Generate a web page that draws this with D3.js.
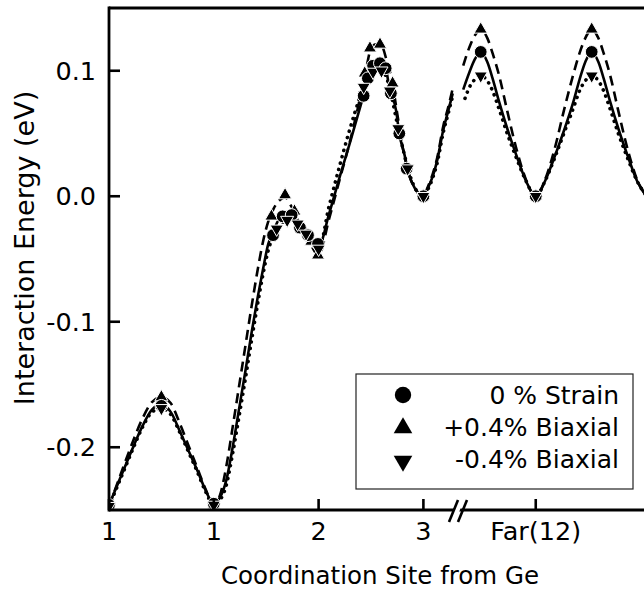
<!DOCTYPE html>
<html><head><meta charset="utf-8">
<script src="https://cdn.jsdelivr.net/npm/d3@7"></script>
<style>
html,body{margin:0;padding:0;background:#fff;}
svg{display:block;}
text{font-family:"DejaVu Sans",Verdana,sans-serif;fill:#000;}
</style></head><body>
<svg id="chart" width="644" height="591"></svg>
<script>
// Axis ticks: the coordinate runs through sites 1,1,2,3, then resumes past the axis break
const xTickValues = [0, 1, 2, 3, 4.072];
const xTickLabels = ["1", "1", "2", "3", "Far(12)"];
const yTickValues = [0.1, 0.0, -0.1, -0.2];
const yTickLabels = ["0.1", "0.0", "-0.1", "-0.2"];
const seriesNames = ["0 % Strain", "+0.4% Biaxial", "-0.4% Biaxial"];

// Energy profiles [coordinate, eV] – near sites (before break) and far site (after break)
const zeroNear = [[0,-0.246],[0.07,-0.232],[0.14,-0.218],[0.23,-0.200],[0.32,-0.183],[0.41,-0.170],[0.5,-0.166],[0.59,-0.172],[0.68,-0.188],[0.76,-0.203],[0.84,-0.218],[0.92,-0.234],[1.0,-0.245],
  [1.06,-0.240],[1.12,-0.226],[1.18,-0.200],[1.24,-0.170],[1.30,-0.140],[1.36,-0.109],[1.42,-0.080],[1.47,-0.058],[1.52,-0.038],[1.565,-0.029],[1.61,-0.020],[1.66,-0.016],[1.74,-0.015],[1.82,-0.025],[1.90,-0.031],[2.0,-0.040],
  [2.1,-0.014],[2.2,0.015],[2.3,0.043],[2.4,0.072],[2.46,0.090],[2.51,0.103],[2.55,0.106],[2.60,0.105],[2.64,0.102],[2.67,0.089],[2.74,0.068],[2.77,0.050],[2.82,0.033],[2.86,0.018],[2.92,0.006],[3.0,0.0],
  [3.04,0.006],[3.09,0.016],[3.13,0.028],[3.19,0.053],[3.24,0.069],[3.28,0.082]];
const zeroFar = [[3.38,0.085],[3.44,0.099],[3.49,0.109],[3.547,0.115],[3.61,0.107],[3.66,0.094],[3.72,0.076],[3.80,0.054],[3.89,0.032],[3.98,0.012],[4.072,0.0],
  [4.16,0.012],[4.25,0.031],[4.34,0.052],[4.43,0.075],[4.49,0.093],[4.545,0.107],[4.606,0.115],[4.67,0.107],[4.72,0.094],[4.78,0.076],[4.86,0.054],[4.95,0.032],[5.04,0.012],[5.13,0.0]];

const plusNear = [[0,-0.247],[0.07,-0.231],[0.14,-0.215],[0.23,-0.195],[0.32,-0.177],[0.41,-0.164],[0.5,-0.160],[0.59,-0.165],[0.68,-0.182],[0.76,-0.199],[0.84,-0.216],[0.92,-0.233],[1.0,-0.246],
  [1.06,-0.238],[1.12,-0.215],[1.18,-0.184],[1.24,-0.152],[1.30,-0.120],[1.36,-0.088],[1.42,-0.058],[1.47,-0.036],[1.52,-0.020],[1.57,-0.010],[1.63,-0.003],[1.68,-0.001],[1.74,-0.008],[1.82,-0.022],[1.90,-0.034],[2.0,-0.047],
  [2.1,-0.018],[2.2,0.013],[2.3,0.044],[2.4,0.080],[2.46,0.104],[2.5,0.118],[2.55,0.121],[2.6,0.120],[2.65,0.108],[2.7,0.092],[2.75,0.066],[2.8,0.040],[2.86,0.018],[2.93,0.005],[3.0,0.0],
  [3.04,0.007],[3.09,0.018],[3.13,0.030],[3.19,0.056],[3.24,0.072],[3.28,0.086]];
const plusFar = [[3.38,0.104],[3.44,0.119],[3.49,0.128],[3.547,0.133],[3.61,0.126],[3.66,0.114],[3.72,0.097],[3.80,0.068],[3.89,0.037],[3.98,0.013],[4.072,0.0],
  [4.16,0.013],[4.25,0.037],[4.34,0.068],[4.43,0.097],[4.49,0.114],[4.545,0.126],[4.606,0.133],[4.67,0.126],[4.72,0.114],[4.78,0.097],[4.86,0.068],[4.95,0.037],[5.04,0.013],[5.13,0.0]];

const minusNear = [[0,-0.247],[0.07,-0.233],[0.14,-0.219],[0.23,-0.201],[0.32,-0.184],[0.41,-0.172],[0.5,-0.169],[0.59,-0.174],[0.68,-0.189],[0.76,-0.204],[0.84,-0.219],[0.92,-0.235],[1.0,-0.246],
  [1.06,-0.242],[1.12,-0.230],[1.18,-0.205],[1.24,-0.176],[1.30,-0.146],[1.36,-0.115],[1.42,-0.085],[1.47,-0.062],[1.52,-0.043],[1.57,-0.031],[1.62,-0.024],[1.70,-0.019],[1.78,-0.020],[1.86,-0.028],[1.93,-0.034],[2.0,-0.042],
  [2.1,-0.008],[2.2,0.024],[2.3,0.054],[2.4,0.080],[2.46,0.092],[2.52,0.099],[2.6,0.100],[2.65,0.094],[2.7,0.078],[2.76,0.054],[2.81,0.036],[2.87,0.017],[2.93,0.005],[3.0,0.0],
  [3.04,0.005],[3.09,0.015],[3.13,0.026],[3.19,0.051],[3.24,0.067],[3.28,0.080]];
const minusFar = [[3.397,0.078],[3.44,0.087],[3.49,0.093],[3.547,0.096],[3.61,0.092],[3.66,0.084],[3.72,0.070],[3.80,0.050],[3.89,0.030],[3.98,0.012],[4.072,0.0],
  [4.16,0.012],[4.25,0.030],[4.34,0.050],[4.43,0.070],[4.49,0.084],[4.545,0.092],[4.606,0.096],[4.67,0.092],[4.72,0.084],[4.78,0.070],[4.86,0.050],[4.95,0.030],[5.04,0.012],[5.13,0.0]];

// Computed images along each path
const zeroMarks = [[0,-0.246],[0.5,-0.167],[1.0,-0.245],[1.565,-0.031],[1.657,-0.016],[1.743,-0.015],[1.822,-0.025],[1.899,-0.031],[1.994,-0.038],
  [2.43,0.080],[2.47,0.094],[2.52,0.104],[2.585,0.106],[2.64,0.102],[2.69,0.082],[2.77,0.050],[2.84,0.022],[3.0,0.0],[3.547,0.115],[4.072,0.0],[4.606,0.115]];
const plusMarks = [[0,-0.247],[0.5,-0.160],[1.0,-0.246],[1.55,-0.016],[1.68,0.001],[1.77,-0.012],[1.86,-0.027],[1.93,-0.036],[1.994,-0.047],
  [2.44,0.098],[2.49,0.118],[2.586,0.121],[2.706,0.090],[3.0,0.0],[3.547,0.133],[4.072,0.0],[4.606,0.133]];
const minusMarks = [[0,-0.247],[0.5,-0.169],[1.0,-0.246],[1.60,-0.026],[1.70,-0.019],[1.80,-0.022],[1.88,-0.030],[2.0,-0.042],
  [2.43,0.087],[2.52,0.099],[2.6,0.100],[2.68,0.084],[2.76,0.054],[2.85,0.022],[3.0,0.0],[3.547,0.096],[4.072,0.0],[4.606,0.096]];

const svg = d3.select("#chart");
const W = 644, H = 591;
const padL = 109, padT = 8, padB = 510, padR = 700;

const x = d3.scaleLinear().domain([0, 5.105]).range([padL, 644]);
const y = d3.scaleLinear().domain([-0.25, 0.15]).range([padB, padT]);

svg.append("rect").attr("width", W).attr("height", H).attr("fill", "#fff");

svg.append("clipPath").attr("id", "plotClip").append("rect")
  .attr("x", padL).attr("y", padT).attr("width", padR - padL).attr("height", padB - padT);

const plot = svg.append("g").attr("clip-path", "url(#plotClip)");

const line = d3.line().x(d => x(d[0])).y(d => y(d[1])).curve(d3.curveMonotoneX);

const styles = {
  zero:  {dash: null, width: 2.6, cap: "butt"},
  plus:  {dash: "10,6", width: 2.6, cap: "butt"},
  minus: {dash: "0.1,6.5", width: 3.6, cap: "round"}
};

function drawPath(data, st) {
  plot.append("path").datum(data)
    .attr("d", line)
    .attr("fill", "none")
    .attr("stroke", "#000")
    .attr("stroke-width", st.width)
    .attr("stroke-linecap", st.cap)
    .attr("stroke-linejoin", "round")
    .attr("stroke-dasharray", st.dash);
}
drawPath(minusNear, styles.minus);
drawPath(minusFar, styles.minus);
drawPath(plusNear, styles.plus);
drawPath(plusFar, styles.plus);
drawPath(zeroNear, styles.zero);
drawPath(zeroFar, styles.zero);

// markers
const triUp = d3.symbol().type(d3.symbolTriangle).size(74)();
const circ = d3.symbol().type(d3.symbolCircle).size(128)();

function drawMarks(data, shape, rot) {
  plot.append("g").selectAll("path").data(data).join("path")
    .attr("d", shape)
    .attr("transform", d => `translate(${x(d[0])},${y(d[1])}) rotate(${rot})`)
    .attr("fill", "#000")
    .attr("stroke", "#fff")
    .attr("stroke-width", 1);
}
drawMarks(plusMarks, triUp, 0);
drawMarks(zeroMarks, circ, 0);
drawMarks(minusMarks, triUp, 180);

// frame: left axis, top border, bottom axis
const axisW = 2.8;
svg.append("line").attr("x1", padL).attr("x2", padL).attr("y1", padT - axisW/2).attr("y2", padB + axisW/2)
  .attr("stroke", "#000").attr("stroke-width", axisW);
svg.append("line").attr("x1", padL).attr("x2", W).attr("y1", padT).attr("y2", padT)
  .attr("stroke", "#000").attr("stroke-width", axisW);
svg.append("line").attr("x1", padL).attr("x2", W).attr("y1", padB).attr("y2", padB)
  .attr("stroke", "#000").attr("stroke-width", axisW);

// y ticks and labels
const tickFont = 25.5;
const yt = svg.append("g");
yt.selectAll("line").data(yTickValues).join("line")
  .attr("x1", padL).attr("x2", padL + 11)
  .attr("y1", d => y(d)).attr("y2", d => y(d))
  .attr("stroke", "#000").attr("stroke-width", 2.6);
yt.selectAll("text").data(yTickValues).join("text")
  .attr("x", 96).attr("y", d => y(d) + 9)
  .attr("text-anchor", "end").attr("font-size", tickFont)
  .text((d, i) => yTickLabels[i]);

// x ticks and labels
const xt = svg.append("g");
xt.selectAll("line").data(xTickValues).join("line")
  .attr("x1", d => x(d)).attr("x2", d => x(d))
  .attr("y1", padB).attr("y2", padB - 11)
  .attr("stroke", "#000").attr("stroke-width", 2.6);
xt.selectAll("text").data(xTickValues).join("text")
  .attr("x", d => x(d)).attr("y", 540)
  .attr("text-anchor", "middle").attr("font-size", tickFont)
  .text((d, i) => xTickLabels[i]);

// axis break mark
const bx = 459.5, by = padB;
svg.append("polygon")
  .attr("points", `${bx-10},${by+12} ${bx-2},${by-10} ${bx+4},${by-10} ${bx-4},${by+12}`)
  .attr("fill", "#fff");
[-4.5, 4.5].forEach(o => {
  svg.append("line")
    .attr("x1", bx + o - 6).attr("y1", by + 12)
    .attr("x2", bx + o + 3).attr("y2", by - 10)
    .attr("stroke", "#000").attr("stroke-width", 2.6);
});

// axis titles
svg.append("text").attr("x", 380).attr("y", 584).attr("text-anchor", "middle")
  .attr("font-size", 24.5).text("Coordination Site from Ge");
svg.append("text").attr("transform", "translate(34,248) rotate(-90)")
  .attr("text-anchor", "middle").attr("font-size", 27).text("Interaction Energy (eV)");

// legend
const lg = svg.append("g");
lg.append("rect").attr("x", 356).attr("y", 374).attr("width", 277).attr("height", 115)
  .attr("fill", "#fff").attr("stroke", "#222").attr("stroke-width", 1.2);
const legShapes = [
  {d: d3.symbol().type(d3.symbolCircle).size(210)(), rot: 0, cy: 395},
  {d: d3.symbol().type(d3.symbolTriangle).size(150)(), rot: 0, cy: 428},
  {d: d3.symbol().type(d3.symbolTriangle).size(150)(), rot: 180, cy: 461}
];
legShapes.forEach((s, i) => {
  lg.append("path").attr("d", s.d)
    .attr("transform", `translate(403,${s.cy}) rotate(${s.rot})`)
    .attr("fill", "#000");
  lg.append("text").attr("x", 619).attr("y", 404 + i * 32.2)
    .attr("text-anchor", "end").attr("font-size", 25).text(seriesNames[i]);
});
</script>
</body></html>
